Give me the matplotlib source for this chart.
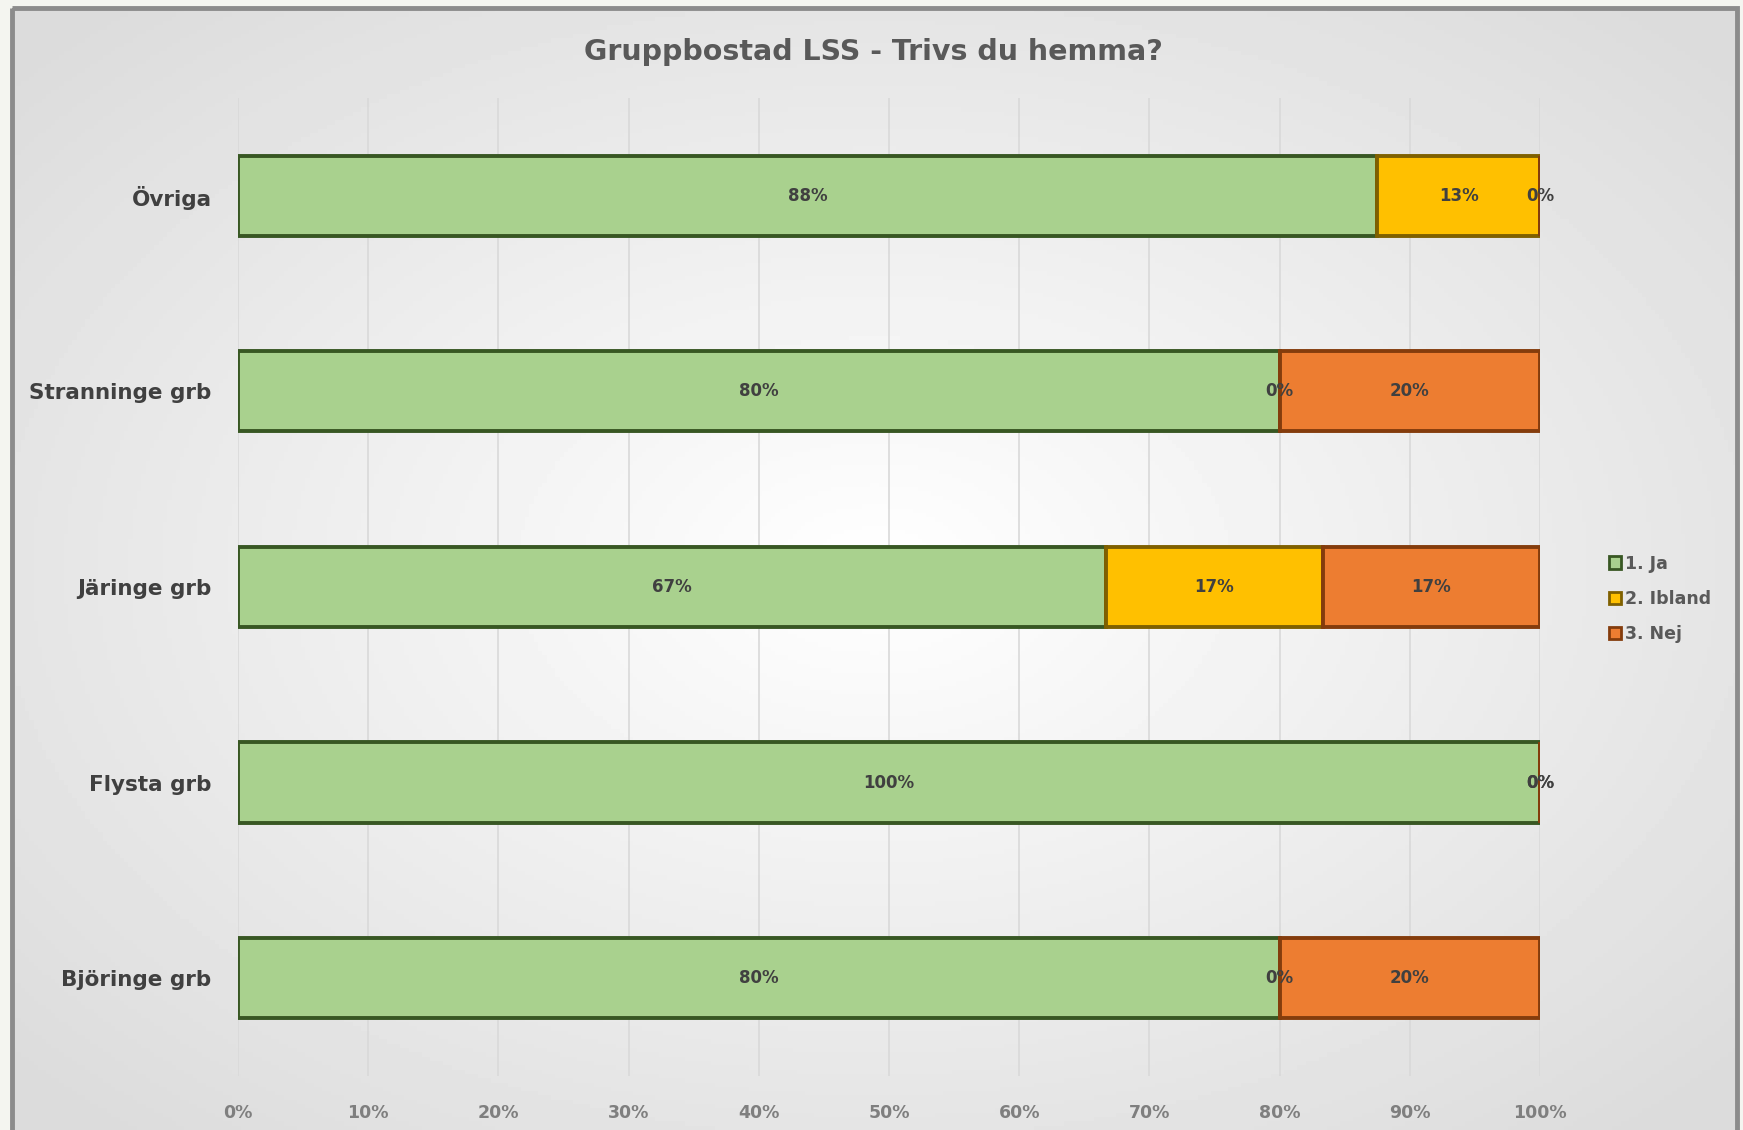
import numpy as np
import matplotlib
matplotlib.use("Agg")
import matplotlib.pyplot as plt
from matplotlib.patches import Rectangle, Patch

# data (share of answers, %)
categories = ["Björinge grb", "Flysta grb", "Järinge grb", "Stranninge grb", "Övriga"]
ja = [80.0, 100.0, 66.67, 80.0, 87.5]
ibland = [0.0, 0.0, 16.67, 0.0, 12.5]
nej = [20.0, 0.0, 16.67, 20.0, 0.0]
series_names = ["1. Ja", "2. Ibland", "3. Nej"]
x_ticks = [0, 10, 20, 30, 40, 50, 60, 70, 80, 90, 100]

face_colors = ["#A9D18E", "#FFC000", "#ED7D31"]
edge_colors = ["#385723", "#7F6000", "#843C0C"]


def main():
    fig = plt.figure(figsize=(17.43, 11.30), dpi=100)
    fig.patch.set_facecolor("#F4F5F0")

    # background with radial gradient and grey frame
    bg = fig.add_axes([0, 0, 1, 1])
    bg.set_xlim(0, 1743)
    bg.set_ylim(1130, 0)
    bg.axis("off")
    gx, gy = np.meshgrid(np.linspace(-1, 1, 400), np.linspace(-1, 1, 260))
    r = np.clip(np.sqrt(gx ** 2 + gy ** 2) / 1.35, 0, 1)
    grad = 1.0 - 0.14 * r
    bg.imshow(grad, cmap="gray", vmin=0, vmax=1, extent=[12, 1737, 1130, 8],
              aspect="auto", zorder=0)
    bg.add_patch(Rectangle((12, 8), 1725, 1130, fill=False, edgecolor="#8C8C8C",
                           linewidth=3.5, zorder=1))

    ax = fig.add_axes([0.1365, 0.0478, 0.747, 0.8655])
    ax.patch.set_alpha(0)
    y = np.arange(len(categories))
    left = np.zeros(len(categories))
    for vals, name, fc, ec in zip([ja, ibland, nej], series_names, face_colors, edge_colors):
        vals = np.array(vals)
        ax.barh(y, vals, left=left, height=0.41, color=fc, edgecolor=ec,
                linewidth=2.8, label=name, zorder=3)
        for yi, l, v in zip(y, left, vals):
            ax.text(l + v / 2, yi, f"{int(np.floor(v + 0.5))}%", ha="center", va="center",
                    fontsize=12, fontweight="bold", color="#404040", zorder=4)
        left = left + vals

    ax.set_xlim(0, 100)
    ax.set_ylim(-0.5, len(categories) - 0.5)
    ax.set_xticks(x_ticks)
    ax.set_xticklabels([f"{t}%" for t in x_ticks], fontsize=12.5, fontweight="bold", color="#7F7F7F")
    ax.set_yticks(y)
    ax.set_yticklabels(categories, fontsize=15.5, fontweight="bold", color="#404040")
    ax.tick_params(axis="x", length=0, pad=20)
    ax.tick_params(axis="y", length=0, pad=19)
    ax.grid(axis="x", color="#D9D9D9", linewidth=1.2, zorder=0)
    for s in ax.spines.values():
        s.set_visible(False)

    fig.text(0.501, 0.954, "Gruppbostad LSS - Trivs du hemma?", ha="center", va="center",
             fontsize=20.5, fontweight="bold", color="#595959")

    handles = [Patch(facecolor=fc, edgecolor=ec, linewidth=2) for fc, ec in zip(face_colors, edge_colors)]
    fig.legend(handles, series_names, loc="center left", bbox_to_anchor=(0.914, 0.47),
               frameon=False, handlelength=0.7, handleheight=0.7, handletextpad=0.25,
               labelspacing=1.0, prop={"size": 12.5, "weight": "bold"}, labelcolor="#595959")

    fig.savefig("out.png", dpi=100)


if __name__ == "__main__":
    main()
